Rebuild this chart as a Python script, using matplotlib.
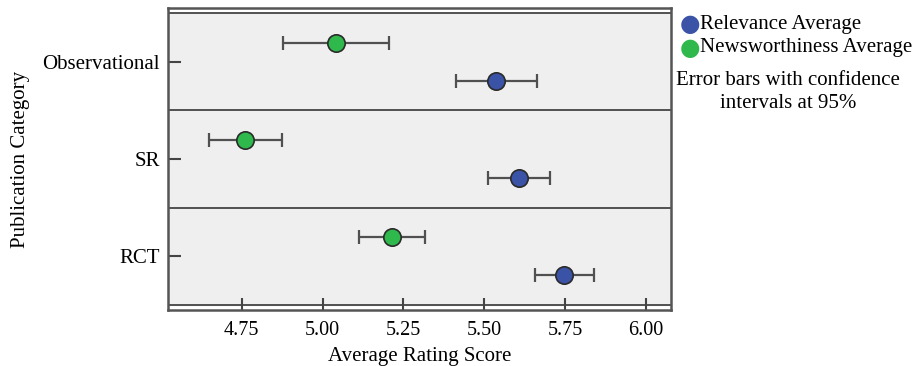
import matplotlib.pyplot as plt

# data
categories = ["Observational", "SR", "RCT"]
relevance = [5.537, 5.608, 5.747]
relevance_lo = [5.412, 5.511, 5.657]
relevance_hi = [5.664, 5.702, 5.840]
news = [5.040, 4.760, 5.216]
news_lo = [4.877, 4.648, 5.114]
news_hi = [5.205, 4.873, 5.318]
xticks = [4.75, 5.00, 5.25, 5.50, 5.75, 6.00]

plt.rcParams['font.family'] = ['Liberation Serif', 'DejaVu Serif']

fig = plt.figure(figsize=(9.16, 3.66), dpi=100)
ax = fig.add_axes([0.1834, 0.153, 0.5491, 0.825])

ypos = list(range(len(categories)))
off = 0.195

# panel backgrounds
for y in ypos:
    ax.axhspan(y - 0.5, y + 0.5, color='#efefef', zorder=0)
for b in [-0.5, 0.5, 1.5, 2.5]:
    ax.axhline(b, color='#444444', lw=1.3, zorder=1)

rel_err = [[m - l for m, l in zip(relevance, relevance_lo)],
           [h - m for m, h in zip(relevance, relevance_hi)]]
news_err = [[m - l for m, l in zip(news, news_lo)],
            [h - m for m, h in zip(news, news_hi)]]

ax.errorbar(relevance, [y + off for y in ypos], xerr=rel_err, fmt='none',
            ecolor='#505050', elinewidth=1.6, capsize=5, capthick=1.6, zorder=2)
ax.errorbar(news, [y - off for y in ypos], xerr=news_err, fmt='none',
            ecolor='#505050', elinewidth=1.6, capsize=5, capthick=1.6, zorder=2)
ax.plot(relevance, [y + off for y in ypos], 'o', ms=12.5, mfc='#3a53a6',
        mec='#2a2a2a', mew=1.2, zorder=3)
ax.plot(news, [y - off for y in ypos], 'o', ms=12.5, mfc='#2fb84c',
        mec='#2a2a2a', mew=1.2, zorder=3)

ax.set_xlim(4.522, 6.077)
ax.set_ylim(2.555, -0.555)
ax.set_yticks(ypos)
ax.set_yticklabels(categories)
ax.set_xticks(xticks)
ax.set_xticklabels(["%.2f" % v for v in xticks])
ax.tick_params(axis='both', direction='in', length=9, width=1.5,
               color='#444444', labelsize=15)
ax.tick_params(axis='x', pad=8, labelsize=14.5)
ax.tick_params(axis='y', pad=6)
for s in ax.spines.values():
    s.set_color('#555555')
    s.set_linewidth(1.8)

ax.set_xlabel("Average Rating Score", fontsize=15, labelpad=5)
ax.set_ylabel("Publication Category", fontsize=15, labelpad=9)

# legend
fig.text(0.753, 0.934, "\u25CF", color='#3a53a6', fontsize=17,
         family='DejaVu Sans', va='center', ha='center')
fig.text(0.753, 0.869, "\u25CF", color='#2fb84c', fontsize=17,
         family='DejaVu Sans', va='center', ha='center')
fig.text(0.764, 0.934, "Relevance Average", fontsize=15, va='center')
fig.text(0.764, 0.869, "Newsworthiness Average", fontsize=15, va='center')
fig.text(0.860, 0.748, "Error bars with confidence\nintervals at 95%",
         fontsize=15, ha='center', va='center', linespacing=1.25)

fig.savefig("out.png", dpi=100)
